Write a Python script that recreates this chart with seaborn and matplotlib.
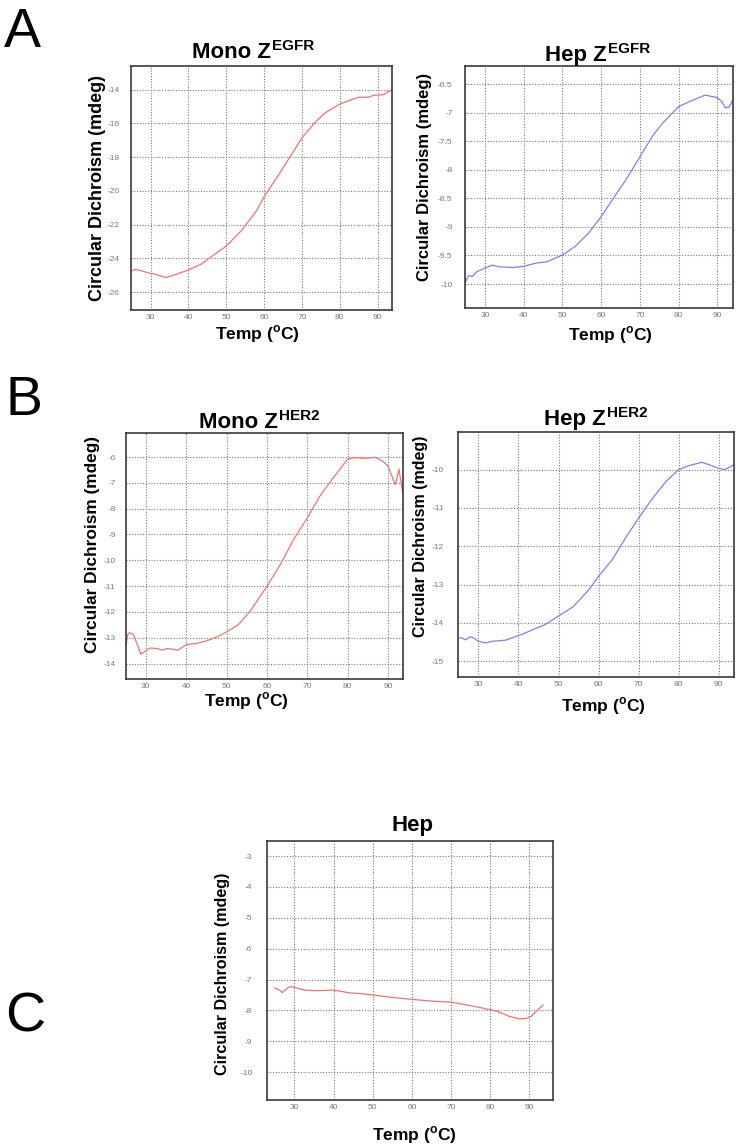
import matplotlib
matplotlib.use("Agg")
import matplotlib.pyplot as plt
import seaborn as sns

# --- data (temperature in C, CD in mdeg) ---
mono_egfr_temp = [25, 26, 30, 31, 34, 36.4, 40, 43.4, 46, 50, 54, 58, 60, 63.7, 66.8,
                  70, 73.5, 76.1, 80, 84.9, 87.5, 88.9, 91.5, 92.9, 93.7]
mono_egfr_cd = [-24.72, -24.64, -24.88, -24.92, -25.13, -24.96, -24.68, -24.33, -23.9,
                -23.26, -22.35, -21.17, -20.34, -19.09, -18.0, -16.86, -15.93, -15.38,
                -14.85, -14.45, -14.45, -14.34, -14.3, -14.1, -14.06]

hep_egfr_temp = [24.9, 25.8, 26.7, 28, 30, 31.8, 33.9, 37.4, 40, 43.4, 46, 50, 53.3, 56.7,
                 60, 64, 66.6, 70, 73.4, 76, 80, 82.9, 86.8, 89.7, 91, 92, 93, 94]
hep_egfr_cd = [-9.97, -9.85, -9.87, -9.78, -9.72, -9.67, -9.70, -9.71, -9.69, -9.63, -9.61,
               -9.49, -9.34, -9.11, -8.82, -8.41, -8.15, -7.77, -7.39, -7.17, -6.89, -6.80,
               -6.69, -6.73, -6.79, -6.91, -6.90, -6.77]

mono_her2_temp = [25.1, 25.5, 26, 27, 27.9, 28.8, 30, 31.1, 32.8, 34, 35.3, 36.9, 37.9, 40,
                  42.6, 45.1, 47.5, 50, 52.9, 55.8, 60, 63.3, 66.6, 70, 73.1, 76.4, 80, 81.4,
                  84.7, 86.8, 88.8, 90, 90.8, 91.8, 92.7, 93.7]
mono_her2_cd = [-13.34, -12.89, -12.80, -12.89, -13.27, -13.64, -13.51, -13.40, -13.42,
                -13.48, -13.42, -13.45, -13.49, -13.27, -13.22, -13.12, -12.98, -12.78,
                -12.50, -11.98, -11.01, -10.17, -9.20, -8.36, -7.52, -6.81, -6.08, -6.03,
                -6.05, -6.01, -6.17, -6.36, -6.68, -7.07, -6.47, -7.46]

hep_her2_temp = [24.9, 25.9, 26.75, 28, 28.8, 30, 31.75, 33.4, 36.75, 40, 43.3, 46.7, 50,
                 53.75, 57.6, 60, 63.4, 66.75, 70, 73.4, 76.75, 80, 82.5, 85.75, 88.3, 90,
                 91.6, 93.8]
hep_her2_cd = [-14.39, -14.39, -14.44, -14.36, -14.39, -14.48, -14.52, -14.48, -14.45,
               -14.33, -14.19, -14.04, -13.82, -13.57, -13.13, -12.78, -12.35, -11.78,
               -11.26, -10.76, -10.32, -10.00, -9.90, -9.81, -9.90, -9.97, -10.00, -9.87]

hep_temp = [24.95, 26.1, 26.9, 28, 29, 30.5, 32.6, 35.6, 40, 44.1, 46.7, 50, 55.1, 60,
            65.3, 70, 73.9, 77.3, 80, 81.9, 84.8, 87.4, 89.1, 90.4, 92.1, 93.5]
hep_cd = [-7.27, -7.33, -7.42, -7.30, -7.22, -7.27, -7.34, -7.36, -7.34, -7.43, -7.45,
          -7.50, -7.58, -7.64, -7.70, -7.73, -7.82, -7.90, -7.98, -8.03, -8.19, -8.27,
          -8.26, -8.19, -7.98, -7.82]

x_ticks = [30, 40, 50, 60, 70, 80, 90]
mono_egfr_yticks = [-14, -16, -18, -20, -22, -24, -26]
hep_egfr_yticks = [-6.5, -7, -7.5, -8, -8.5, -9, -9.5, -10]
mono_her2_yticks = [-6, -7, -8, -9, -10, -11, -12, -13, -14]
hep_her2_yticks = [-10, -11, -12, -13, -14, -15]
hep_yticks = [-3, -4, -5, -6, -7, -8, -9, -10]

RED = "#ef7373"
BLUE = "#8080e8"

sns.set_style("white")
plt.rcParams["font.family"] = ["Liberation Sans", "DejaVu Sans"]
plt.rcParams["text.color"] = "black"
plt.rcParams["axes.labelcolor"] = "black"
plt.rcParams["mathtext.fontset"] = "custom"
plt.rcParams["mathtext.rm"] = "Liberation Sans"
plt.rcParams["mathtext.bf"] = "Liberation Sans:bold"

W, H = 740, 1146
fig = plt.figure(figsize=(W / 100, H / 100), dpi=100)

# pixel boxes (left, top, right, bottom) of each plot area
panels = [
    dict(temp=mono_egfr_temp, cd=mono_egfr_cd, color=RED, yticks=mono_egfr_yticks,
         box=(131, 66, 392, 310), xlim=(24.8, 93.8), ylim=(-27.05, -12.6),
         title=("Mono Z", "EGFR"), tc=253.5, tb=(58, 50), ylab=(-0.094, 0.5, 13),
         xlab=(0.483, -0.053), ypad=8),
    dict(temp=hep_egfr_temp, cd=hep_egfr_cd, color=BLUE, yticks=hep_egfr_yticks,
         box=(465, 66, 733, 308), xlim=(24.85, 94.0), ylim=(-10.42, -6.18),
         title=("Hep Z", "EGFR"), tc=597.5, tb=(60.7, 53.3), ylab=(-0.122, 0.54, 12),
         xlab=(0.541, -0.066), ypad=9),
    dict(temp=mono_her2_temp, cd=mono_her2_cd, color=RED, yticks=mono_her2_yticks,
         box=(126, 433, 403, 679), xlim=(25.1, 93.7), ylim=(-14.6, -5.07),
         title=("Mono Z", "HER2"), tc=259, tb=(428.3, 420), ylab=(-0.094, 0.545, 12.4),
         xlab=(0.436, -0.045), ypad=7.5),
    dict(temp=hep_her2_temp, cd=hep_her2_cd, color=BLUE, yticks=hep_her2_yticks,
         box=(458, 432, 734, 677), xlim=(24.9, 93.8), ylim=(-15.41, -9.02),
         title=("Hep Z", "HER2"), tc=595.5, tb=(425, 416.7), ylab=(-0.108, 0.575, 11.5),
         xlab=(0.525, -0.073), ypad=10),
    dict(temp=hep_temp, cd=hep_cd, color=RED, yticks=hep_yticks,
         box=(267, 841, 553, 1100), xlim=(23.0, 96.0), ylim=(-10.9, -2.51),
         title=("Hep", ""), tc=412.5, tb=(830.7, 830.7), ylab=(-0.13, 0.486, 11.6),
         xlab=(0.514, -0.093), ypad=10.5),
]

fig.canvas.draw()
renderer = fig.canvas.get_renderer()

for p in panels:
    l, t, r, b = p["box"]
    ax = fig.add_axes([l / W, 1 - b / H, (r - l) / W, (b - t) / H])
    sns.lineplot(x=p["temp"], y=p["cd"], ax=ax, color=p["color"], linewidth=0.9)
    ax.set_xlim(*p["xlim"])
    ax.set_ylim(*p["ylim"])
    ax.set_xticks(x_ticks)
    ax.set_xticklabels([str(v) for v in x_ticks])
    ax.set_yticks(p["yticks"])
    ax.set_yticklabels([f"{v:g}" for v in p["yticks"]])
    ax.tick_params(length=0, labelsize=6, labelcolor="#7a7a7a")
    ax.tick_params(axis="x", pad=3)
    ax.tick_params(axis="y", pad=p["ypad"])
    ax.grid(True, linestyle=(0, (1, 1.5)), color="#7a7a7a", linewidth=0.8)
    for s in ax.spines.values():
        s.set_color("#3a3a3a")
        s.set_linewidth(1.2)

    yx, yy, ysize = p["ylab"]
    ax.set_ylabel("Circular Dichroism (mdeg)", fontsize=ysize, fontweight="bold")
    ax.yaxis.set_label_coords(yx, yy)
    ax.set_xlabel(r"Temp ($^{\mathbf{o}}$C)", fontsize=12.5, fontweight="bold")
    ax.xaxis.set_label_coords(p["xlab"][0], p["xlab"][1])

    # title: big text plus a smaller raised suffix, centred as a whole
    main, sup = p["title"]
    t1 = fig.text(0, 0, main, fontsize=16, fontweight="bold", va="baseline")
    w1 = t1.get_window_extent(renderer).width
    w2 = 0
    if sup:
        t2 = fig.text(0, 0, sup, fontsize=11, fontweight="bold", va="baseline")
        w2 = t2.get_window_extent(renderer).width
    x0 = p["tc"] - (w1 + w2 + 1) / 2
    t1.set_position((x0 / W, 1 - p["tb"][0] / H))
    if sup:
        t2.set_position(((x0 + w1 + 1) / W, 1 - p["tb"][1] / H))

# panel letters
for letter, (lx, ly) in zip(["A", "B", "C"], [(4, 47), (5, 415), (5, 1031)]):
    fig.text(lx / W, 1 - ly / H, letter, fontsize=40, va="baseline")

fig.savefig("out.png", dpi=100)
